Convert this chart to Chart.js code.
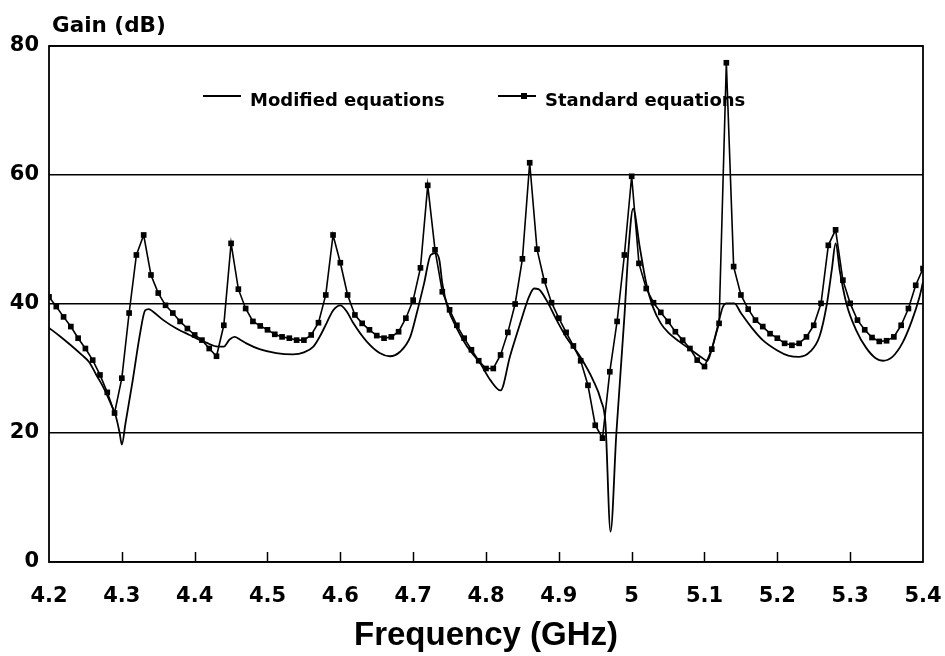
<!DOCTYPE html>
<html>
<head>
<meta charset="utf-8">
<script src="https://cdn.jsdelivr.net/npm/chart.js@4.4.1/dist/chart.umd.min.js"></script>
<style>
html,body{margin:0;padding:0;background:#fff;}
#wrap{width:945px;height:656px;position:relative;}
canvas{display:block;}
</style>
</head>
<body>
<div id="wrap"><canvas id="c" width="945" height="656"></canvas></div>
<script>
// ---- data ----
const freqStd = [4.20,4.21,4.22,4.23,4.24,4.25,4.26,4.27,4.28,4.29,
  4.30,4.31,4.32,4.33,4.34,4.35,4.36,4.37,4.38,4.39,
  4.40,4.41,4.42,4.43,4.44,4.45,4.46,4.47,4.48,4.49,
  4.50,4.51,4.52,4.53,4.54,4.55,4.56,4.57,4.58,4.59,
  4.60,4.61,4.62,4.63,4.64,4.65,4.66,4.67,4.68,4.69,
  4.70,4.71,4.72,4.73,4.74,4.75,4.76,4.77,4.78,4.79,
  4.80,4.81,4.82,4.83,4.84,4.85,4.86,4.87,4.88,4.89,
  4.90,4.91,4.92,4.93,4.94,4.95,4.96,4.97,4.98,4.99,
  5.00,5.01,5.02,5.03,5.04,5.05,5.06,5.07,5.08,5.09,
  5.10,5.11,5.12,5.13,5.14,5.15,5.16,5.17,5.18,5.19,
  5.20,5.21,5.22,5.23,5.24,5.25,5.26,5.27,5.28,5.29,
  5.30,5.31,5.32,5.33,5.34,5.35,5.36,5.37,5.38,5.39,5.40];
const gainStd = [41.1,39.6,38.0,36.5,34.7,33.1,31.3,29.0,26.3,23.1,
  28.5,38.6,47.6,50.7,44.5,41.7,39.8,38.6,37.3,36.2,
  35.2,34.4,33.1,31.9,36.7,49.4,42.3,39.3,37.3,36.6,
  36.0,35.3,34.9,34.7,34.4,34.4,35.2,37.1,41.4,50.7,
  46.4,41.4,38.3,37.0,36.0,35.1,34.7,34.9,35.7,37.8,
  40.6,45.6,58.4,48.4,41.9,39.1,36.7,34.7,32.9,31.2,
  30.0,30.0,32.1,35.6,40.0,47.0,61.9,48.5,43.6,40.2,
  37.8,35.6,33.5,31.2,27.4,21.2,19.2,29.5,37.3,47.6,
  59.8,46.3,42.4,40.2,38.7,37.3,35.7,34.4,33.1,31.3,
  30.3,33.0,37.0,77.4,45.8,41.4,39.2,37.5,36.5,35.4,
  34.7,33.9,33.6,33.9,34.9,36.7,40.1,49.1,51.5,43.7,
  40.1,37.5,36.0,34.8,34.2,34.3,34.9,36.7,39.3,42.9,45.5];

const freqMod = [4.200,4.215,4.230,4.245,4.255,4.265,4.275,4.285,4.292,4.297,
  4.300,4.305,4.315,4.325,4.332,4.337,4.343,4.357,4.375,4.393,
  4.416,4.432,4.440,4.448,4.455,4.462,4.471,4.489,4.512,4.535,
  4.550,4.563,4.572,4.581,4.590,4.600,4.609,4.618,4.636,4.654,
  4.668,4.682,4.696,4.705,4.715,4.724,4.731,4.736,4.740,4.747,
  4.761,4.774,4.792,4.806,4.820,4.833,4.847,4.859,4.866,4.872,
  4.883,4.897,4.910,4.929,4.947,4.958,4.964,4.971,4.979,4.990,
  4.996,5.002,5.011,5.020,5.029,5.040,5.050,5.065,5.080,5.095,
  5.104,5.110,5.117,5.125,5.130,5.141,5.150,5.165,5.180,5.200,
  5.215,5.230,5.245,5.258,5.268,5.275,5.280,5.286,5.295,5.308,
  5.322,5.335,5.345,5.358,5.372,5.385,5.395,5.400];
const gainMod = [36.3,35.0,33.6,32.1,31.0,29.0,27.0,24.5,22.5,20.0,
  18.2,21.5,28.2,35.4,39.0,39.2,38.8,37.5,36.2,35.2,
  34.0,33.4,33.4,34.5,34.9,34.5,33.9,33.0,32.4,32.2,
  32.5,33.4,35.0,37.0,39.0,39.8,38.8,37.0,34.2,32.4,
  31.9,32.6,34.9,38.6,43.2,47.6,47.9,46.8,43.2,39.6,
  36.0,33.4,30.8,28.2,26.6,31.9,37.0,41.1,42.4,42.3,
  40.6,37.5,34.9,31.9,28.2,25.0,21.5,4.7,20.0,38.0,
  49.0,54.8,48.9,43.2,39.6,37.0,35.6,34.2,33.0,31.8,
  31.2,33.0,36.0,39.5,40.1,40.1,38.6,36.3,34.4,32.8,
  32.0,31.8,32.6,35.0,40.0,45.5,49.4,45.0,40.0,36.0,
  33.2,31.6,31.2,31.8,34.0,37.5,41.0,43.4];

const xTicks = [4.2,4.3,4.4,4.5,4.6,4.7,4.8,4.9,5.0,5.1,5.2,5.3,5.4];
const yTicks = [0,20,40,60,80];
const seriesNames = ['Modified equations','Standard equations'];
const xTitle = 'Frequency (GHz)';
const yTitle = 'Gain (dB)';

// ---- drawing ----
const BOLD_FAMILY = '"DejaVu Sans", sans-serif';

const framePlugin = {
  id: 'frame',
  afterDraw(chart) {
    const ctx = chart.ctx;
    const a = chart.chartArea;
    const xs = chart.scales.x;
    ctx.save();
    ctx.strokeStyle = '#000';
    ctx.lineWidth = 1.8;
    ctx.strokeRect(a.left, a.top, a.right - a.left, a.bottom - a.top);
    ctx.lineWidth = 1.5;
    xTicks.slice(1, -1).forEach(v => {
      const px = Math.round(xs.getPixelForValue(v)) + 0.5;
      ctx.beginPath();
      ctx.moveTo(px, a.bottom);
      ctx.lineTo(px, a.bottom - 10);
      ctx.stroke();
    });
    ctx.fillStyle = '#000';
    ctx.font = 'bold 21.5px ' + BOLD_FAMILY;
    ctx.textBaseline = 'alphabetic';
    ctx.textAlign = 'left';
    ctx.fillText(yTitle, 52, 32);
    ctx.font = 'bold 18px ' + BOLD_FAMILY;
    ctx.lineWidth = 1.8;
    ctx.beginPath(); ctx.moveTo(203, 96); ctx.lineTo(241, 96); ctx.stroke();
    ctx.fillText(seriesNames[0], 250, 106);
    ctx.beginPath(); ctx.moveTo(498, 96); ctx.lineTo(536, 96); ctx.stroke();
    ctx.fillRect(521, 93, 6, 6);
    ctx.fillText(seriesNames[1], 545, 106);
    ctx.restore();
  }
};

const tickFont = {family: BOLD_FAMILY, size: 21, weight: 'bold'};

new Chart(document.getElementById('c'), {
  type: 'line',
  data: {
    datasets: [
      {
        label: seriesNames[0],
        data: freqMod.map((f, i) => ({x: f, y: gainMod[i]})),
        borderColor: '#000',
        borderWidth: 1.8,
        pointRadius: 0,
        fill: false,
        cubicInterpolationMode: 'monotone'
      },
      {
        label: seriesNames[1],
        data: freqStd.map((f, i) => ({x: f, y: gainStd[i]})),
        borderColor: '#000',
        backgroundColor: '#000',
        borderWidth: 1.6,
        pointStyle: 'rect',
        pointRadius: 4,
        pointBorderWidth: 0,
        pointBackgroundColor: '#000',
        fill: false,
        tension: 0
      }
    ]
  },
  options: {
    responsive: false,
    animation: false,
    devicePixelRatio: 1,
    layout: {padding: {left: 0, right: 22, top: 46, bottom: 0}},
    plugins: {legend: {display: false}, tooltip: {enabled: false}, title: {display: false}},
    scales: {
      x: {
        type: 'linear',
        min: 4.2, max: 5.4,
        afterBuildTicks: s => { s.ticks = xTicks.map(v => ({value: v})); },
        afterFit: s => { s.height = 94; s.paddingLeft = 0; s.paddingRight = 0; },
        grid: {display: false},
        border: {display: false},
        ticks: {
          color: '#000', font: tickFont, padding: 14, maxRotation: 0, autoSkip: false,
          callback: v => String(Number(Number(v).toFixed(1)))
        },
        title: {
          display: true, text: xTitle, color: '#000',
          font: {family: '"Liberation Sans", Arial, sans-serif', size: 33, weight: 'bold'},
          padding: {top: 0, bottom: 0}
        }
      },
      y: {
        type: 'linear',
        min: 0, max: 80,
        afterBuildTicks: s => { s.ticks = yTicks.map(v => ({value: v})); },
        afterFit: s => { s.width = 49; s.paddingTop = 0; s.paddingBottom = 0; },
        grid: {color: '#000', lineWidth: 1.5, drawTicks: false},
        border: {display: false},
        ticks: {color: '#000', font: tickFont, padding: 10}
      }
    }
  },
  plugins: [framePlugin]
});
</script>
</body>
</html>
